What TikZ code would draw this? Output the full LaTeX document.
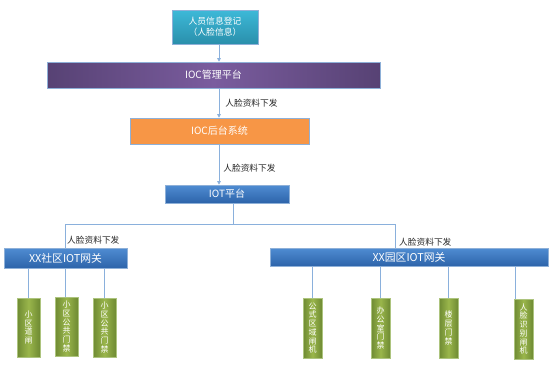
\documentclass[tikz,border=0pt]{standalone}
\usepackage{fontspec}
\setmainfont{Noto Sans CJK SC}
\usetikzlibrary{shadows,arrows.meta}
\definecolor{tealT}{HTML}{3DB9D8}
\definecolor{tealB}{HTML}{2A8FAB}
\definecolor{purE}{HTML}{574274}
\definecolor{purM}{HTML}{7A5C9E}
\definecolor{orng}{HTML}{F79646}
\definecolor{bluT}{HTML}{4F8CD2}
\definecolor{bluB}{HTML}{2D64AA}
\definecolor{grnE}{HTML}{6E8A33}
\definecolor{grnM}{HTML}{9AB64B}
\definecolor{edgeB}{HTML}{8EB0D8}
\definecolor{edgeG}{HTML}{ADC47E}
\definecolor{linec}{HTML}{8AB0DC}
\pgfdeclarelayer{background}
\pgfsetlayers{background,main}
\begin{document}
\begin{tikzpicture}[x=1pt,y=-1pt,
  box/.style={draw=edgeB, line width=0.6pt, inner sep=0pt, text=white,
    font=\fontsize{10}{11.5}\selectfont, align=center,
    drop shadow={opacity=0.3,shadow xshift=1pt,shadow yshift=-1.2pt}},
  tealbox/.style={box, top color=tealT, bottom color=tealB, font=\fontsize{8.8}{11}\selectfont},
  purbox/.style={box, left color=purE, right color=purE, middle color=purM},
  orgbox/.style={box, fill=orng},
  blubox/.style={box, top color=bluT, bottom color=bluB},
  leaf/.style={box, draw=edgeG, left color=grnE, right color=grnE, middle color=grnM,
    font=\fontsize{8}{8.7}\selectfont},
  conn/.style={draw=linec, line width=0.7pt},
  arr/.style={conn, -{Triangle[length=3.5pt,width=3.5pt]}},
  lab/.style={font=\fontsize{8.7}{9}\selectfont, text=black!85, inner sep=0pt}
]
\useasboundingbox (0,0) rectangle (554,365);

\node[tealbox, minimum width=86pt, minimum height=34pt] (reg) at (215,27) {人员信息登记\\（人脸信息）};
\node[purbox, minimum width=333pt, minimum height=26pt] (mgmt) at (213.5,75) {IOC管理平台};
\node[orgbox, minimum width=179pt, minimum height=26pt] (back) at (219.5,131) {IOC后台系统};
\node[blubox, minimum width=124pt, minimum height=18pt] (iot) at (227,194) {IOT平台};
\node[blubox, minimum width=123pt, minimum height=20pt, font=\fontsize{10.8}{12}\selectfont] (gwA) at (65.5,258) {XX社区IOT网关};
\node[blubox, minimum width=278pt, minimum height=18pt, font=\fontsize{10.8}{12}\selectfont] (gwB) at (409,257) {XX园区IOT网关};

\node[leaf, minimum width=23pt, minimum height=59pt] (A1) at (28.5,327.5) {小\\区\\道\\闸};
\node[leaf, minimum width=23pt, minimum height=59pt] (A2) at (66.5,326.5) {小\\区\\公\\共\\门\\禁};
\node[leaf, minimum width=23pt, minimum height=59pt] (A3) at (104.5,327.5) {小\\区\\公\\共\\门\\禁};
\node[leaf, minimum width=19pt, minimum height=60pt] (B1) at (312.5,328) {公\\式\\区\\域\\闸\\机};
\node[leaf, minimum width=19pt, minimum height=60pt] (B2) at (380.5,328) {办\\公\\室\\门\\禁};
\node[leaf, minimum width=19pt, minimum height=60pt] (B3) at (448.5,328) {楼\\层\\门\\禁};
\node[leaf, minimum width=19pt, minimum height=60pt] (B4) at (523.5,329) {人\\脸\\识\\别\\闸\\机};

\coordinate (ax) at (219,0);
\draw[arr] (reg.south -| ax) -- (mgmt.north -| ax);
\draw[arr] (mgmt.south -| ax) -- node[lab, right=6pt] {人脸资料下发} (back.north -| ax);
\draw[arr] (back.south -| ax) -- node[lab, right=4pt, pos=0.58] {人脸资料下发} (iot.north -| ax);

\coordinate (hj) at (233,224);
\coordinate (lx) at (65,224);
\coordinate (rx) at (395,224);
\coordinate (b4x) at (515,0);
\begin{pgfonlayer}{background}
\draw[conn] (iot.south -| hj) -- (hj);
\draw[conn] (A2.north -| lx) -- (lx) -- (rx) -- (gwB.north -| rx);
\draw[conn] (gwA.south -| A1.north) -- (A1.north);
\draw[conn] (gwA.south -| A3.north) -- (A3.north);
\draw[conn] (gwB.south -| B1.north) -- (B1.north);
\draw[conn] (gwB.south -| B2.north) -- (B2.north);
\draw[conn] (gwB.south -| B3.north) -- (B3.north);
\draw[conn] (gwB.south -| b4x) -- (B4.north -| b4x);
\end{pgfonlayer}
\node[lab, anchor=west] (labA) at (67,240) {人脸资料下发};
\node[lab, anchor=west] (labB) at (399,242) {人脸资料下发};
\end{tikzpicture}
\end{document}
